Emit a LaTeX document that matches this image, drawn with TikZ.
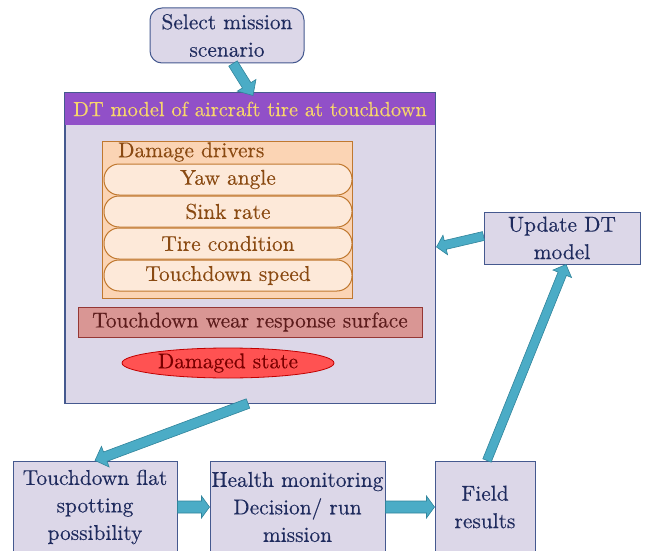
\documentclass[tikz,border=0pt]{standalone}
\usepackage{fontspec}
\setmainfont{lmroman10-regular.otf}[FakeBold=0.3]
\usetikzlibrary{calc,shapes.geometric}

\definecolor{lav}{HTML}{DCD7E8}
\definecolor{lavedge}{HTML}{45598F}
\definecolor{navy}{HTML}{1F2B5E}
\definecolor{titlebg}{HTML}{9150C8}
\definecolor{titletxt}{HTML}{F7D66B}
\definecolor{peach}{HTML}{FBD4B4}
\definecolor{peachlt}{HTML}{FDE9D9}
\definecolor{brownedge}{HTML}{C0782F}
\definecolor{browntxt}{HTML}{8A4A12}
\definecolor{rose}{HTML}{D99694}
\definecolor{roseedge}{HTML}{953735}
\definecolor{rosetxt}{HTML}{5C1C1C}
\definecolor{redfill}{HTML}{FF5252}
\definecolor{rededge}{HTML}{C00000}
\definecolor{redtxt}{HTML}{7A0000}
\definecolor{flow}{HTML}{4BACC6}
\definecolor{flowedge}{HTML}{31849B}

% Block arrow: #1 start, #2 tip, #3 shaft half-width, #4 head half-width, #5 head length
\newcommand\blockarrow[5]{%
  \path #1 coordinate (ba-s) #2 coordinate (ba-e);
  \coordinate (ba-c) at ($(ba-e)!#5!(ba-s)$);
  \draw[flowarrow] ($(ba-s)!#3!90:(ba-e)$) -- ($(ba-c)!#3!90:(ba-e)$)
    -- ($(ba-c)!#4!90:(ba-e)$) -- (ba-e) -- ($(ba-c)!#4!-90:(ba-e)$)
    -- ($(ba-c)!#3!-90:(ba-e)$) -- ($(ba-s)!#3!-90:(ba-e)$) -- cycle;
}

\begin{document}
\begin{tikzpicture}[x=1pt,y=-1pt,
  font=\fontsize{21.4}{27.5}\selectfont,
  box/.style={draw=lavedge, fill=lav, line width=1pt, text=navy, align=center, inner sep=0pt},
  pill/.style={draw=brownedge, fill=peachlt, text=browntxt, line width=1pt,
    rounded corners=15pt, minimum width=248pt, minimum height=31pt, inner sep=0pt},
  flowarrow/.style={fill=flow, draw=flowedge, line width=0.6pt, line join=miter}]
\useasboundingbox (0,0) rectangle (651,551);
\clip (0,0) rectangle (651,551);

% mission selection
\node[box, rounded corners=12pt, minimum width=154pt, minimum height=55pt] (sel) at (227,35.5) {Select mission\\scenario};

% digital twin model frame
\node[box, minimum width=370pt, minimum height=310pt] (main) at (250,248) {};
\node[fill=titlebg, text=titletxt, minimum width=370pt, minimum height=32pt, inner sep=0pt,
  font=\fontsize{20.5}{24}\selectfont] (title) at (250,109) {DT model of aircraft tire at touchdown};
\draw[lavedge, line width=1pt] (main.north west) rectangle (main.south east);

% damage drivers
\node[draw=brownedge, fill=peach, line width=1pt, minimum width=250pt, minimum height=157pt, inner sep=0pt] (drv) at (227,219.5) {};
\node[text=browntxt, anchor=west, inner sep=0pt] (drvlabel) at (118,152) {Damage drivers};
\node[pill] (yaw) at (228,179.5) {Yaw angle};
\node[pill] (sink) at (228,211.5) {Sink rate};
\node[pill] (cond) at (228,243.5) {Tire condition};
\node[pill] (speed) at (228,275.5) {Touchdown speed};

% response surface and damage state
\node[draw=roseedge, fill=rose, text=rosetxt, line width=1pt, minimum width=344pt, minimum height=30pt, inner sep=0pt] (wear) at (250,322) {Touchdown wear response surface};
\node[ellipse, draw=rededge, fill=redfill, text=redtxt, line width=0.8pt, minimum width=212pt, minimum height=30pt, inner sep=0pt] (dmg) at (228,363) {Damaged state};

% model update
\node[box, minimum width=156pt, minimum height=52pt] (upd) at (562,238) {Update DT\\model};

% bottom row
\node[box, minimum width=164pt, minimum height=92pt] (td) at (95,507) {Touchdown flat\\spotting\\possibility};
\node[box, minimum width=175pt, minimum height=92pt] (hm) at (297.5,507) {Health monitoring\\Decision/ run\\mission};
\node[box, minimum width=100pt, minimum height=92pt] (fr) at (485,507) {Field\\results};

% flow arrows
\blockarrow{([xshift=6pt]sel.south)}{([xshift=3pt,yshift=-3pt]main.north)}{5pt}{11pt}{12pt}
\blockarrow{([yshift=2pt]upd.west)}{([xshift=1pt,yshift=1pt]main.east)}{4.5pt}{10pt}{9pt}
\blockarrow{([xshift=2pt]fr.north)}{([xshift=4pt]upd.south)}{4.5pt}{10pt}{10pt}
\blockarrow{([xshift=-2pt]main.south)}{(td.north)}{5pt}{11pt}{11pt}
\blockarrow{(td.east)}{(hm.west)}{6pt}{11pt}{8pt}
\blockarrow{(hm.east)}{(fr.west)}{6pt}{11pt}{8pt}
\end{tikzpicture}
\end{document}
